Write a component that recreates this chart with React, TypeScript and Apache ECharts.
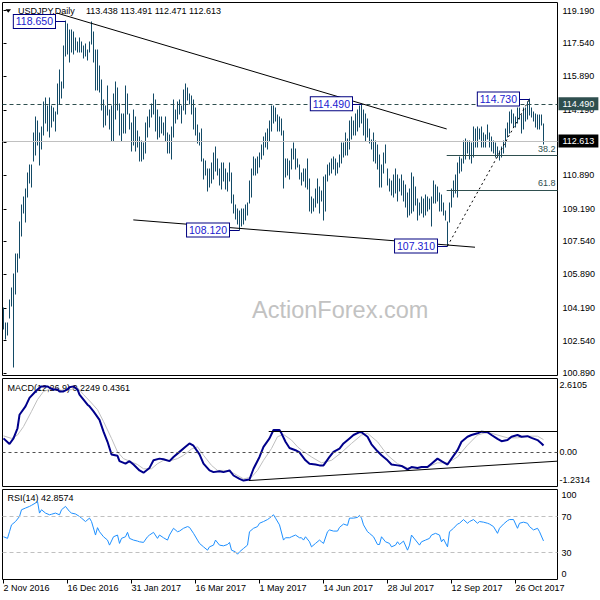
import React, { useEffect, useRef } from "react";
import * as echarts from "echarts";

// ---------- data ----------
const highs = [
  104.2, 103.4, 103.4, 104.6, 105.2, 105.9, 106.9, 106.9, 108.5, 109.4,
  109.8, 110.2, 111.0, 111.4, 111.4, 113.0, 113.8, 113.6, 113.0, 113.3,
  114.6, 114.8, 114.4, 114.8, 114.4, 114.3, 114.1, 115.5, 116.2, 115.6,
  117.4, 118.65, 118.5, 118.2, 118.2, 118.1, 117.8, 117.6, 117.8, 117.6,
  117.4, 117.5, 117.2, 117.6, 118.6, 118.1, 117.2, 117.2, 116.4, 115.7,
  114.7, 114.4, 115.4, 114.2, 114.4, 115.0, 115.6, 115.3, 114.5, 114.0,
  114.0, 115.4, 115.0, 114.0, 113.5, 114.2, 113.8, 113.1, 112.8, 112.6,
  112.5, 113.5, 113.8, 114.2, 114.5, 115.0, 114.7, 114.2, 113.8, 113.8,
  113.5, 113.8, 113.0, 112.9, 113.3, 114.7, 114.2, 114.6, 114.7, 114.4,
  115.2, 115.5, 115.3, 115.0, 114.9, 114.7, 114.3, 113.4, 113.0, 113.2,
  111.7, 111.6, 111.2, 111.2, 111.5, 112.0, 112.3, 111.7, 111.2, 111.5,
  111.5, 111.2, 111.0, 111.5, 111.0, 109.9, 109.4, 109.2, 109.1, 109.2,
  109.2, 109.4, 109.5, 110.6, 111.2, 111.8, 111.7, 111.8, 112.0, 112.4,
  112.8, 113.0, 113.2, 113.6, 114.4, 114.4, 114.3, 113.9, 113.8, 113.7,
  113.1, 111.7, 111.7, 111.6, 112.2, 112.5, 112.2, 111.7, 111.4, 111.0,
  111.2, 111.2, 111.7, 110.7, 109.8, 109.7, 110.2, 110.7, 110.3, 110.1,
  110.8, 110.9, 111.4, 111.5, 111.7, 111.8, 111.7, 111.5, 111.9, 112.5,
  112.5, 113.0, 112.7, 113.6, 113.8, 113.6, 114.0, 114.2, 114.4, 114.49,
  114.2, 114.0, 113.7, 113.2, 112.66, 113.0, 112.6, 112.4, 111.9, 111.4,
  112.0, 112.4, 111.2, 110.7, 110.6, 110.9, 111.2, 110.9, 110.7, 110.9,
  110.6, 110.4, 110.0, 110.2, 111.0, 110.8, 110.3, 109.7, 109.5, 109.8,
  109.7, 109.9, 109.8, 109.7, 109.8, 110.6, 110.4, 110.3, 110.0, 109.9,
  109.5, 109.1, 108.5, 109.5, 110.2, 110.6, 110.9, 111.5, 111.8, 111.7,
  112.6, 112.7, 112.6, 112.6, 112.5, 113.3, 113.2, 113.3, 113.2, 113.3,
  113.0, 112.9, 113.4, 113.0, 112.8, 112.6, 112.5, 112.3, 112.1, 112.3,
  112.6, 113.2, 113.5, 114.1, 114.2, 114.0, 113.8, 114.3, 114.3, 113.9,
  114.3, 114.3, 114.6, 114.73, 114.3, 114.1, 114.0, 113.9, 113.9, 113.9,
  113.491,
];
const lows = [
  103.1, 102.6, 102.8, 103.7, 104.3, 101.2, 104.9, 106.0, 106.7, 107.8,
  109.0, 108.5, 109.8, 110.5, 110.3, 111.6, 111.9, 112.4, 111.4, 112.2,
  112.9, 113.5, 113.1, 112.8, 113.3, 113.6, 113.1, 114.0, 114.5, 114.8,
  115.3, 116.9, 117.0, 116.6, 117.1, 117.0, 117.2, 117.1, 117.1, 117.1,
  116.8, 116.9, 116.7, 117.1, 117.5, 116.6, 115.2, 115.2, 115.1, 114.2,
  113.3, 113.4, 113.9, 113.2, 112.6, 112.6, 113.7, 114.2, 112.9, 112.6,
  113.0, 113.0, 114.0, 113.2, 112.1, 112.4, 112.1, 112.3, 111.6, 111.6,
  111.7, 112.0, 112.8, 113.3, 113.8, 114.0, 113.1, 112.7, 112.8, 113.0,
  112.9, 112.6, 112.0, 112.0, 111.7, 112.8, 113.5, 113.7, 114.0, 113.5,
  114.2, 114.0, 114.7, 114.5, 114.0, 113.2, 112.9, 112.5, 112.4, 111.6,
  110.7, 110.9, 110.1, 110.3, 110.5, 110.7, 111.1, 110.9, 110.4, 110.2,
  110.6, 110.2, 110.1, 110.6, 109.5, 109.0, 108.7, 108.4, 108.12, 108.3,
  108.4, 108.6, 108.9, 109.5, 109.8, 110.9, 110.9, 111.0, 111.3, 111.7,
  111.9, 112.3, 112.2, 112.6, 113.1, 113.5, 113.6, 113.1, 113.1, 112.9,
  110.25, 110.8, 110.9, 110.7, 111.2, 111.7, 111.2, 111.3, 110.7, 110.4,
  110.6, 110.3, 110.2, 109.1, 109.0, 109.1, 109.3, 109.5, 109.0, 109.6,
  108.6, 109.1, 110.6, 110.9, 111.0, 111.2, 110.9, 111.0, 111.3, 111.5,
  111.8, 111.9, 111.9, 112.2, 112.7, 112.9, 112.9, 113.1, 113.3, 113.5,
  112.9, 112.6, 112.8, 112.5, 112.2, 111.6, 111.5, 111.2, 110.3, 110.3,
  111.0, 111.5, 110.4, 110.1, 109.9, 109.8, 110.0, 109.6, 110.1, 109.9,
  109.6, 109.3, 108.8, 108.9, 109.0, 109.1, 109.4, 108.6, 108.9, 109.0,
  108.8, 108.9, 109.1, 109.2, 108.3, 109.5, 109.5, 109.6, 109.1, 109.1,
  108.9, 108.6, 107.31, 108.5, 109.3, 109.8, 110.0, 109.8, 111.0, 111.1,
  111.5, 111.7, 112.0, 111.7, 111.5, 111.8, 112.3, 112.3, 112.7, 112.3,
  112.3, 112.3, 112.7, 112.3, 112.1, 112.0, 111.8, 111.8, 111.65, 111.8,
  112.0, 112.3, 112.8, 113.0, 113.5, 113.3, 113.3, 113.5, 113.7, 113.0,
  113.2, 113.6, 113.7, 113.9, 113.8, 113.6, 113.3, 113.2, 113.2, 113.4,
  112.471,
];

// [bar index, value]
const macdMain = [
  [0, 0.48], [3, 0.28], [5, 0.48], [7, 0.84], [8, 1.32], [11, 1.62], [13, 1.92], [16, 2.15], [18, 2.28], [19, 2.33],
  [22, 2.33], [23, 2.28], [25, 2.22], [27, 2.22], [28, 2.15], [30, 2.15], [32, 2.22], [33, 2.3], [35, 2.33], [37, 2.22],
  [38, 2.04], [40, 1.86], [42, 1.68], [43, 1.62], [45, 1.44], [48, 1.14], [50, 0.72], [52, 0.36], [54, -0.09], [57, -0.14],
  [58, -0.33], [61, -0.42], [63, -0.33], [65, -0.45], [68, -0.66], [70, -0.74], [73, -0.57], [75, -0.3], [78, -0.24], [80, -0.26],
  [83, -0.33], [85, -0.18], [88, 0.0], [91, 0.18], [93, 0.3], [95, 0.22], [98, -0.09], [100, -0.42], [103, -0.66], [105, -0.72],
  [108, -0.69], [110, -0.72], [113, -0.66], [115, -0.84], [118, -0.96], [120, -1.02], [123, -0.98], [125, -0.6], [128, -0.18], [130, 0.18],
  [133, 0.48], [135, 0.78], [138, 0.78], [139, 0.66], [141, 0.36], [143, 0.14], [146, 0.06], [148, -0.02], [151, -0.3], [153, -0.42],
  [156, -0.45], [158, -0.48], [160, -0.48], [163, -0.18], [165, 0.0], [168, 0.12], [170, 0.3], [173, 0.48], [175, 0.6], [178, 0.7],
  [179, 0.7], [182, 0.54], [184, 0.27], [187, 0.02], [189, -0.12], [192, -0.3], [194, -0.45], [197, -0.48], [199, -0.5], [202, -0.62],
  [204, -0.54], [207, -0.57], [209, -0.54], [212, -0.54], [214, -0.42], [217, -0.24], [219, -0.33], [222, -0.45], [224, -0.24], [227, 0.06],
  [229, 0.36], [232, 0.54], [234, 0.6], [237, 0.66], [239, 0.72], [242, 0.7], [244, 0.6], [247, 0.46], [249, 0.38], [252, 0.42],
  [254, 0.54], [257, 0.6], [259, 0.54], [262, 0.56], [264, 0.5], [267, 0.42], [269, 0.3], [270, 0.2249],
];
const macdSignal = [
  [0, 0.57], [4, 0.48], [7, 0.6], [10, 0.9], [14, 1.44], [17, 1.86], [20, 2.15], [24, 2.25], [27, 2.22], [30, 2.18],
  [34, 2.22], [37, 2.28], [40, 2.04], [44, 1.74], [47, 1.5], [50, 1.08], [54, 0.48], [57, 0.0], [60, -0.24], [64, -0.36],
  [67, -0.45], [70, -0.6], [74, -0.6], [77, -0.42], [80, -0.3], [84, -0.3], [87, -0.24], [90, -0.12], [94, 0.1], [97, 0.18],
  [100, -0.12], [104, -0.48], [107, -0.66], [110, -0.66], [114, -0.72], [117, -0.84], [120, -0.96], [124, -0.9], [127, -0.66], [130, -0.3],
  [134, 0.12], [137, 0.54], [140, 0.62], [144, 0.42], [147, 0.18], [149, 0.06], [154, -0.18], [159, -0.39], [164, -0.3], [169, -0.02],
  [174, 0.3], [179, 0.6], [182, 0.66], [187, 0.36], [192, -0.12], [197, -0.42], [202, -0.57], [207, -0.57], [212, -0.54], [217, -0.39],
  [222, -0.39], [227, -0.18], [232, 0.24], [237, 0.6], [242, 0.7], [247, 0.6], [252, 0.5], [257, 0.5], [262, 0.56], [267, 0.56],
  [270, 0.4361],
];
const rsi14 = [
  [0, 47.5], [2, 45.7], [3, 53.1], [4, 60.7], [6, 64.4], [8, 70], [9, 77.5], [11, 79.4], [13, 81.2], [14, 82.4],
  [16, 85], [17, 86.9], [18, 73.8], [19, 77.5], [21, 73.8], [23, 71.9], [24, 72.5], [26, 73.8], [28, 71.9], [29, 77.5],
  [31, 81.2], [33, 75.6], [34, 73.8], [36, 72.8], [38, 70], [39, 68.2], [41, 64.4], [43, 68.2], [44, 64.4], [46, 49.4],
  [47, 57.6], [48, 53.1], [50, 47.5], [52, 43.8], [53, 38.2], [55, 47.5], [57, 49.4], [58, 40.1], [59, 45.7], [61, 47.5],
  [62, 52.4], [63, 45.7], [65, 43.8], [67, 42.7], [68, 41.9], [70, 41.2], [72, 47.5], [73, 49.4], [75, 52.4], [77, 45.7],
  [78, 49.4], [80, 46.4], [82, 43.8], [83, 49.4], [85, 56.9], [87, 53.1], [88, 53.8], [90, 56.9], [92, 58.8], [93, 57.9],
  [95, 51.3], [97, 43.8], [98, 40.1], [100, 36.3], [102, 32.6], [103, 36.3], [105, 38.2], [106, 43.8], [108, 38.2], [110, 37.4],
  [112, 38.9], [113, 41.2], [114, 32.6], [116, 30.7], [117, 28.1], [118, 30.7], [120, 34.5], [122, 38.2], [123, 53.1], [125, 56.9],
  [127, 58.8], [128, 62.5], [130, 64.4], [132, 66.6], [133, 68.2], [135, 71.9], [136, 68.2], [138, 60.7], [140, 43.8], [141, 46.4],
  [143, 46.4], [144, 47.5], [146, 49.4], [148, 46.4], [149, 46.4], [150, 43.8], [151, 47.5], [153, 41.9], [154, 36.3], [156, 40.1],
  [158, 43.8], [159, 41.9], [160, 40.1], [162, 53.1], [163, 55.1], [165, 53.8], [167, 53.8], [168, 57.9], [170, 61.6], [172, 60.1],
  [173, 68.2], [175, 68.2], [177, 69.0], [178, 71.2], [179, 68.2], [180, 60.7], [182, 53.1], [183, 51.3], [185, 47.5], [187, 38.9],
  [188, 38.9], [189, 47.5], [191, 41.9], [193, 40.1], [194, 36.3], [196, 38.2], [197, 41.9], [198, 38.9], [200, 42.7], [202, 32.6],
  [203, 38.2], [204, 49.4], [206, 43.8], [208, 38.2], [209, 41.9], [211, 43.8], [213, 45.7], [214, 49.4], [216, 51.3], [218, 49.4],
  [219, 41.9], [220, 44.9], [222, 36.3], [223, 53.1], [225, 56.9], [227, 61.6], [228, 62.5], [230, 66.6], [232, 62.5], [233, 64.4],
  [235, 66.6], [237, 62.5], [238, 64.4], [240, 63.7], [242, 62.5], [243, 61.6], [245, 58.8], [247, 51.3], [248, 56.9], [250, 61.6],
  [252, 65.4], [253, 66.6], [255, 66.6], [257, 56.9], [258, 62.5], [260, 63.7], [262, 62.5], [263, 58.8], [265, 55.1], [267, 56.9],
  [268, 53.1], [270, 42.8574],
];

const priceTicks = [119.19, 117.54, 115.89, 114.19, 112.54, 110.89, 109.19, 107.54, 105.89, 104.19, 102.54, 100.89];
const macdTicks = [2.6105, 0, -1.2314];
const macdTickLabels = ["2.6105", "0.00", "-1.2314"];
const rsiTicks = [100, 70, 30, 0];
const rsiTickLabels = ["100", "70", "30", "0"];
const dateTickIndex = [0, 32, 64, 96, 128, 160, 192, 224, 256];
const dateTickLabels = [
  "2 Nov 2016", "16 Dec 2016", "31 Jan 2017", "16 Mar 2017", "1 May 2017",
  "14 Jun 2017", "28 Jul 2017", "12 Sep 2017", "26 Oct 2017",
];

// annotation levels
const resistance = 114.49;
const lastClose = 112.613;
const swingLow = 107.31;
const swingHigh = 114.73;
const fib382 = swingHigh - 0.382 * (swingHigh - swingLow);
const fib618 = swingHigh - 0.618 * (swingHigh - swingLow);

const FONT = "Liberation Sans";
const BAR = "#134a66";
const SLATE = "#2f4f4f";

function boxLabel(text: string) {
  return {
    show: true,
    position: "start",
    formatter: text,
    distance: 0,
    color: "#1a1ad0",
    fontFamily: FONT,
    fontSize: 10.5,
    backgroundColor: "#fff",
    borderColor: "#000080",
    borderWidth: 1,
    padding: [1, 2, 0, 2],
    lineHeight: 12,
  };
}
function tagLabel(text: string, bg: string) {
  return {
    show: true,
    position: "end",
    formatter: text,
    distance: 1,
    color: "#fff",
    backgroundColor: bg,
    padding: [1, 4, 1, 4],
    lineHeight: 11,
    fontFamily: FONT,
    fontSize: 9,
  };
}

export default function App() {
  const ref = useRef<HTMLDivElement>(null);
  useEffect(() => {
    const chart = echarts.init(ref.current!, null, { renderer: "svg" });
    const gridBase = { left: 2.5, width: 555, show: true, borderColor: "#000", borderWidth: 1 };
    const xHidden = (gi: number) => ({ type: "value", gridIndex: gi, min: -0.5, max: 277, show: false });
    const axisText = { fontFamily: FONT, fontSize: 9, color: "#000" };
    const markBase = {
      silent: true,
      symbol: ["none", "none"],
      animation: false,
      label: { show: false },
      lineStyle: { color: "#000", width: 1, type: "solid" },
      emphasis: { disabled: true },
    };

    const option: any = {
      animation: false,
      backgroundColor: "#fff",
      grid: [
        { ...gridBase, top: 2.5, height: 373 },
        { ...gridBase, top: 378.5, height: 108 },
        { ...gridBase, top: 489.5, height: 90 },
      ],
      xAxis: [
        xHidden(0),
        xHidden(1),
        {
          type: "value",
          gridIndex: 2,
          min: -0.5,
          max: 277,
          splitLine: { show: false },
          axisLine: { show: false },
          axisTick: { show: true, customValues: dateTickIndex, length: 4, lineStyle: { color: "#000" } },
          axisLabel: {
            ...axisText,
            customValues: dateTickIndex,
            align: "left",
            margin: 4,
            formatter: (v: number) => dateTickLabels[dateTickIndex.indexOf(Math.round(v))] ?? "",
          },
        },
      ],
      yAxis: [
        {
          type: "value",
          gridIndex: 0,
          position: "right",
          min: 100.775,
          max: 119.604,
          splitLine: { show: false },
          axisLine: { show: false },
          axisTick: { show: true, customValues: priceTicks, length: 3, lineStyle: { color: "#000" } },
          axisLabel: { ...axisText, customValues: priceTicks, margin: 5, formatter: (v: number) => v.toFixed(3) },
        },
        {
          type: "value",
          gridIndex: 1,
          position: "right",
          min: -1.2314,
          max: 2.6105,
          splitLine: { show: false },
          axisLine: { show: false },
          axisTick: { show: false },
          axisLabel: {
            ...axisText,
            customValues: macdTicks,
            margin: 2,
            formatter: (v: number) => {
              const k = macdTicks.findIndex((t) => Math.abs(t - v) < 1e-6);
              const s = macdTickLabels[k] ?? "";
              if (k === 0) return "{t|" + s + "}";
              if (k === macdTicks.length - 1) return "{b|" + s + "}";
              return s;
            },
            rich: {
              t: { ...axisText, padding: [12, 0, 0, 0] },
              b: { ...axisText, padding: [0, 0, 14, 0] },
            },
          },
        },
        {
          type: "value",
          gridIndex: 2,
          position: "right",
          min: 0,
          max: 100,
          splitLine: { show: false },
          axisLine: { show: false },
          axisTick: { show: false },
          axisLabel: {
            ...axisText,
            customValues: rsiTicks,
            margin: 4,
            formatter: (v: number) => {
              const k = rsiTicks.indexOf(Math.round(v));
              const s = rsiTickLabels[k] ?? "";
              if (k === 0) return "{t|" + s + "}";
              if (k === rsiTicks.length - 1) return "{b|" + s + "}";
              return s;
            },
            rich: {
              t: { ...axisText, padding: [10, 0, 0, 0] },
              b: { ...axisText, padding: [0, 0, 12, 0] },
            },
          },
        },
      ],
      graphic: [
        { type: "polygon", z: 1, shape: { points: [[5.5, 9.3], [11, 9.3], [8.25, 12.8]] }, style: { fill: "#000" } },
        { type: "text", z: 1, x: 18, y: 11, style: { text: "USDJPY,Daily", fill: "#000", fontFamily: FONT, fontSize: 9, verticalAlign: "middle" } },
        { type: "text", z: 1, x: 86, y: 11, style: { text: "113.438 113.491 112.471 112.613", fill: "#000", fontFamily: FONT, fontSize: 9, verticalAlign: "middle" } },
        { type: "text", z: 1, x: 7.5, y: 388, style: { text: "MACD(12,26,9) 0.2249 0.4361", fill: "#000", fontFamily: FONT, fontSize: 9, verticalAlign: "middle" } },
        { type: "text", z: 1, x: 7.5, y: 497.5, style: { text: "RSI(14) 42.8574", fill: "#000", fontFamily: FONT, fontSize: 9, verticalAlign: "middle" } },
        { type: "text", z: 1, x: 252, y: 310, style: { text: "ActionForex.com", fill: "#c2c2c2", fontFamily: FONT, fontSize: 23.5, verticalAlign: "middle" } },
      ],
      series: [
        {
          type: "line",
          xAxisIndex: 0,
          yAxisIndex: 0,
          data: [],
          z: 2,
          silent: true,
          markLine: {
            ...markBase,
            data: [
              { yAxis: resistance, lineStyle: { color: SLATE, type: [4, 3], width: 1 }, label: tagLabel("114.490", SLATE) },
              { yAxis: lastClose, lineStyle: { color: "#c0c0c0", type: "solid", width: 1 }, label: tagLabel("112.613", "#000") },
              [{ coord: [26.75, 119.07] }, { coord: [221.6, 113.22] }],
              [{ coord: [64.9, 108.63] }, { coord: [235.75, 107.25] }],
              [{ coord: [222, swingLow], lineStyle: { type: [2, 3], color: "#000" } }, { coord: [263, swingHigh] }],
              [
                {
                  coord: [221.6, fib382],
                  lineStyle: { color: SLATE },
                  label: { show: true, position: "insideEndTop", formatter: "38.2", distance: 2, color: SLATE, fontFamily: FONT, fontSize: 9 },
                },
                { coord: [277, fib382] },
              ],
              [
                {
                  coord: [221.6, fib618],
                  lineStyle: { color: SLATE },
                  label: { show: true, position: "insideEndTop", formatter: "61.8", distance: 2, color: SLATE, fontFamily: FONT, fontSize: 9 },
                },
                { coord: [277, fib618] },
              ],
              [{ coord: [25.75, 118.65], lineStyle: { color: "#000080" }, label: boxLabel("118.650") }, { coord: [31, 118.65] }],
              [{ coord: [174.25, 114.49], lineStyle: { color: "#000080" }, label: boxLabel("114.490") }, { coord: [179, 114.49] }],
              [{ coord: [257.75, 114.73], lineStyle: { color: "#000080" }, label: boxLabel("114.730") }, { coord: [263, 114.73] }],
              [{ coord: [112.75, 108.12], lineStyle: { color: "#000080" }, label: boxLabel("108.120") }, { coord: [118, 108.12] }],
              [{ coord: [216.75, 107.31], lineStyle: { color: "#000080" }, label: boxLabel("107.310") }, { coord: [222, 107.31] }],
            ],
          },
        },
        {
          type: "custom",
          xAxisIndex: 0,
          yAxisIndex: 0,
          z: 3,
          silent: true,
          encode: { x: 0, y: [1, 2] },
          data: highs.map((h, i) => [i, lows[i], h]),
          renderItem: (_p: any, api: any) => {
            const i = api.value(0);
            const lo = api.coord([i, api.value(1)]);
            const hi = api.coord([i, api.value(2)]);
            const x = Math.floor(lo[0]) + 0.5;
            return {
              type: "line",
              shape: { x1: x, y1: Math.round(lo[1]) + 0.5, x2: x, y2: Math.round(hi[1]) - 0.5 },
              style: { stroke: BAR, lineWidth: 1 },
            };
          },
        },
        {
          type: "line",
          xAxisIndex: 1,
          yAxisIndex: 1,
          data: macdSignal,
          showSymbol: false,
          symbol: "none",
          z: 2,
          silent: true,
          lineStyle: { color: "#c0c0c0", width: 1 },
          markLine: {
            ...markBase,
            data: [
              { yAxis: 0, lineStyle: { color: "#505050", type: [3, 3], width: 1 } },
              [{ coord: [132.6, 0.72] }, { coord: [277, 0.72] }],
              [{ coord: [122.7, -1.02] }, { coord: [277, -0.33] }],
            ],
          },
        },
        {
          type: "line",
          xAxisIndex: 1,
          yAxisIndex: 1,
          data: macdMain,
          showSymbol: false,
          symbol: "none",
          z: 3,
          silent: true,
          lineStyle: { color: "#00008b", width: 2 },
        },
        {
          type: "line",
          xAxisIndex: 2,
          yAxisIndex: 2,
          data: rsi14,
          showSymbol: false,
          symbol: "none",
          z: 3,
          silent: true,
          lineStyle: { color: "#1e90ff", width: 1 },
          markLine: {
            ...markBase,
            data: [
              { yAxis: 70, lineStyle: { color: "#c0c0c0", type: [4, 3], width: 1 } },
              { yAxis: 30, lineStyle: { color: "#c0c0c0", type: [4, 3], width: 1 } },
            ],
          },
        },
      ],
    };
    chart.setOption(option);
    return () => chart.dispose();
  }, []);
  return <div ref={ref} style={{ position: "fixed", left: 0, top: 0, width: 600, height: 600, background: "#fff" }} />;
}
